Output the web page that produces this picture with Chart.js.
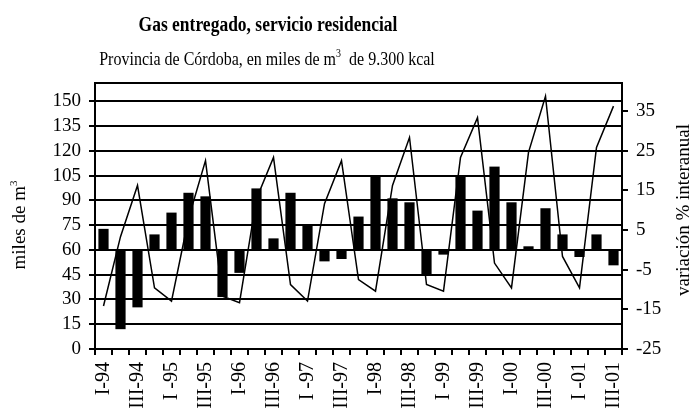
<!DOCTYPE html>
<html lang="es">
<head>
  <meta charset="UTF-8">
  <title>Gas entregado, servicio residencial</title>
  <script src="https://cdn.jsdelivr.net/npm/chart.js"></script>
  <style>
    html, body {
      margin: 0;
      padding: 0;
      background: #fff;
    }
    #gasChart {
      display: block;
    }
  </style>
</head>
<body>
  <canvas id="gasChart" width="691" height="414"></canvas>

  <script>
    // Trimestres I-94 ... III-01 (solo se rotulan los impares: I y III)
    const quarters = [
      'I-94', 'II-94', 'III-94', 'IV-94',
      'I -95', 'II-95', 'III-95', 'IV-95',
      'I-96', 'II-96', 'III-96', 'IV-96',
      'I -97', 'II-97', 'III-97', 'IV-97',
      'I-98', 'II-98', 'III-98', 'IV-98',
      'I -99', 'II-99', 'III-99', 'IV-99',
      'I-00', 'II-00', 'III-00', 'IV-00',
      'I -01', 'II-01', 'III-01'
    ];

    // Gas entregado, miles de m3 (eje izquierdo, línea)
    const gasDelivered = [
      26, 68, 99, 37,
      29, 79, 114, 32,
      28, 91, 116, 39,
      29, 88, 114, 42,
      35, 99, 128, 39,
      35, 116, 140, 52,
      37, 119, 153, 56,
      37, 122, 147
    ];

    // Variación % interanual (eje derecho, barras)
    const yearlyChange = [
      5.3, -20, -14.5, 3.9,
      9.4, 14.4, 13.5, -11.9,
      -5.8, 15.5, 2.9, 14.4,
      6.2, -2.9, -2.3, 8.4,
      18.6, 13.0, 12.0, -6.2,
      -1.2, 18.6, 9.9, 21.0,
      12.0, 0.9, 10.5, 3.9,
      -1.8, 3.9, -3.9
    ];

    const leftTicks = [0, 15, 30, 45, 60, 75, 90, 105, 120, 135, 150];
    const rightTicks = [-25, -15, -5, 5, 15, 25, 35];

    const SERIF = '"Liberation Serif", "Times New Roman", serif';

    // Draw text made of pieces, some of them superscript
    function drawParts(ctx, parts, x, y, size, weight, stretch) {
      const fontOf = p => (weight || '') + ' ' + (p.sup ? Math.round(size * 0.6) : size) + 'px ' + SERIF;
      let total = 0;
      parts.forEach(p => { ctx.font = fontOf(p); total += ctx.measureText(p.t).width; });
      ctx.save();
      ctx.translate(x - total / 2, y);
      ctx.scale(1, stretch || 1);
      let cx = 0;
      ctx.textAlign = 'left';
      ctx.textBaseline = 'alphabetic';
      parts.forEach(p => {
        ctx.font = fontOf(p);
        ctx.fillText(p.t, cx, p.sup ? -size * 0.42 : 0);
        cx += ctx.measureText(p.t).width;
      });
      ctx.restore();
    }

    const frameAndTitles = {
      id: 'frameAndTitles',
      afterDraw(chart) {
        const { ctx, chartArea: a } = chart;
        ctx.save();
        ctx.strokeStyle = '#000';
        ctx.lineWidth = 2;
        ctx.strokeRect(a.left, a.top, a.right - a.left, a.bottom - a.top);
        ctx.fillStyle = '#000';

        drawParts(ctx, [{ t: 'Gas entregado, servicio residencial' }], 268, 31, 17.5, 'bold', 1.15);
        drawParts(ctx, [
          { t: 'Provincia de Córdoba, en miles de m' },
          { t: '3', sup: true },
          { t: '  de 9.300 kcal' }
        ], 267, 65, 16, '', 1.15);

        // left axis title
        ctx.save();
        ctx.translate(25, 225);
        ctx.rotate(-Math.PI / 2);
        drawParts(ctx, [{ t: 'miles de m' }, { t: '3', sup: true }], 0, 0, 19);
        ctx.restore();

        // right axis title
        ctx.save();
        ctx.translate(689, 210);
        ctx.rotate(-Math.PI / 2);
        drawParts(ctx, [{ t: 'variación % interanual' }], 0, 0, 19);
        ctx.restore();

        ctx.restore();
      }
    };

    const ctx = document.getElementById('gasChart').getContext('2d');
    new Chart(ctx, {
      data: {
        labels: quarters,
        datasets: [
          {
            type: 'line',
            label: 'Gas entregado',
            data: gasDelivered,
            yAxisID: 'y',
            borderColor: '#000',
            borderWidth: 1.5,
            pointRadius: 0,
            tension: 0,
            order: 0
          },
          {
            type: 'bar',
            label: 'Variación % interanual',
            data: yearlyChange,
            yAxisID: 'y1',
            backgroundColor: '#000',
            borderWidth: 0,
            barPercentage: 0.6,
            categoryPercentage: 1,
            order: 1
          }
        ]
      },
      options: {
        responsive: false,
        animation: false,
        layout: { padding: { top: 83, left: 0, right: 0, bottom: 0 } },
        plugins: {
          legend: { display: false },
          title: { display: false },
          tooltip: { enabled: false }
        },
        scales: {
          x: {
            offset: true,
            grid: {
              offset: true,
              drawOnChartArea: false,
              color: '#000',
              lineWidth: 2,
              tickLength: 6,
              tickColor: '#000'
            },
            border: { display: false },
            ticks: {
              autoSkip: false,
              maxRotation: 90,
              minRotation: 90,
              padding: 7,
              color: '#000',
              font: { family: SERIF, size: 20 },
              callback: (v, i) => (i % 2 === 0 ? quarters[i] : '')
            },
            afterFit: s => { s.height = 414 - 349; }
          },
          y: {
            position: 'left',
            min: 0,
            max: 161,
            afterBuildTicks: s => { s.ticks = leftTicks.map(v => ({ value: v })); },
            grid: { color: '#000', lineWidth: 2, tickLength: 6 },
            border: { display: false },
            ticks: {
              autoSkip: false,
              color: '#000',
              padding: 8,
              font: { family: SERIF, size: 19 }
            },
            afterFit: s => { s.width = 95; }
          },
          y1: {
            position: 'right',
            min: -25,
            max: 25 * 161 / 60 - 25,
            afterBuildTicks: s => { s.ticks = rightTicks.map(v => ({ value: v })); },
            grid: { drawOnChartArea: false, color: '#000', lineWidth: 2, tickLength: 6 },
            border: { display: false },
            ticks: {
              autoSkip: false,
              color: '#000',
              padding: 8,
              font: { family: SERIF, size: 19 }
            },
            afterFit: s => { s.width = 691 - 622; }
          }
        }
      },
      plugins: [frameAndTitles]
    });
  </script>
</body>
</html>
